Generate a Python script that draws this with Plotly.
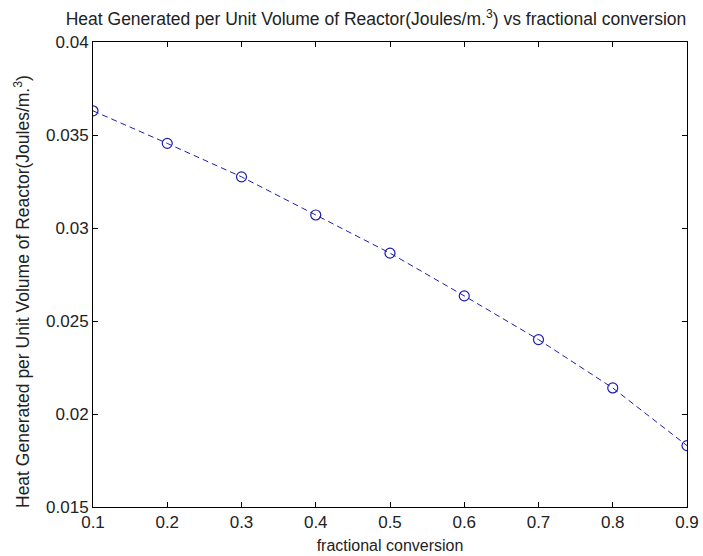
import plotly.graph_objects as go

# fractional conversion and heat generated per unit reactor volume
conversion = [0.1, 0.2, 0.3, 0.4, 0.5, 0.6, 0.7, 0.8, 0.9]
heat_per_volume = [0.0363, 0.03455, 0.03275, 0.0307, 0.02865, 0.02635, 0.0240, 0.0214, 0.0183]

x_ticks = [0.1, 0.2, 0.3, 0.4, 0.5, 0.6, 0.7, 0.8, 0.9]
y_ticks = [0.015, 0.02, 0.025, 0.03, 0.035, 0.04]
y_tick_text = ["0.015", "0.02", "0.025", "0.03", "0.035", "0.04"]

line_color = "#1c1cb0"
font_family = "Liberation Sans, Arial, sans-serif"

fig = go.Figure()
fig.add_trace(go.Scatter(
    x=conversion,
    y=heat_per_volume,
    mode="lines+markers",
    line=dict(color=line_color, width=1, dash="6px,4px"),
    marker=dict(symbol="circle-open", size=10, color=line_color, line=dict(width=1.2, color=line_color)),
    showlegend=False,
))

axis_common = dict(
    showgrid=False,
    zeroline=False,
    showline=True,
    linecolor="black",
    linewidth=1,
    mirror="ticks",
    ticks="inside",
    ticklen=5,
    tickcolor="black",
    automargin=False,
    tickfont=dict(family=font_family, size=17, color="#222"),
)

fig.update_layout(
    width=703,
    height=556,
    margin=dict(l=93, r=16, t=42, b=49),
    paper_bgcolor="white",
    plot_bgcolor="white",
    font=dict(family=font_family, color="#222"),
    title=dict(
        text="Heat Generated per Unit Volume of Reactor(Joules/m.<sup>3</sup>) vs fractional conversion",
        xref="container",
        x=376 / 703,
        xanchor="center",
        yref="container",
        y=1 - 19 / 556,
        yanchor="middle",
        font=dict(size=17.5, family=font_family, color="#222"),
    ),
    xaxis=dict(
        range=[0.1, 0.9],
        tickvals=x_ticks,
        ticktext=[str(v) for v in x_ticks],
        title=dict(text="fractional conversion", font=dict(size=16, family=font_family), standoff=8),
        **axis_common,
    ),
    yaxis=dict(
        range=[0.015, 0.04],
        tickvals=y_ticks,
        ticktext=y_tick_text,
        **axis_common,
    ),
)

# vertical axis label, placed beside the tick labels
fig.add_annotation(
    text="Heat Generated per Unit Volume of Reactor(Joules/m.<sup>3</sup>)",
    xref="paper", yref="paper",
    x=(22 - 93) / 594, y=(507 - 292) / 465,
    xanchor="center", yanchor="middle",
    textangle=-90,
    showarrow=False,
    font=dict(size=17.5, family=font_family, color="#222"),
)

fig.write_html("out.html")
